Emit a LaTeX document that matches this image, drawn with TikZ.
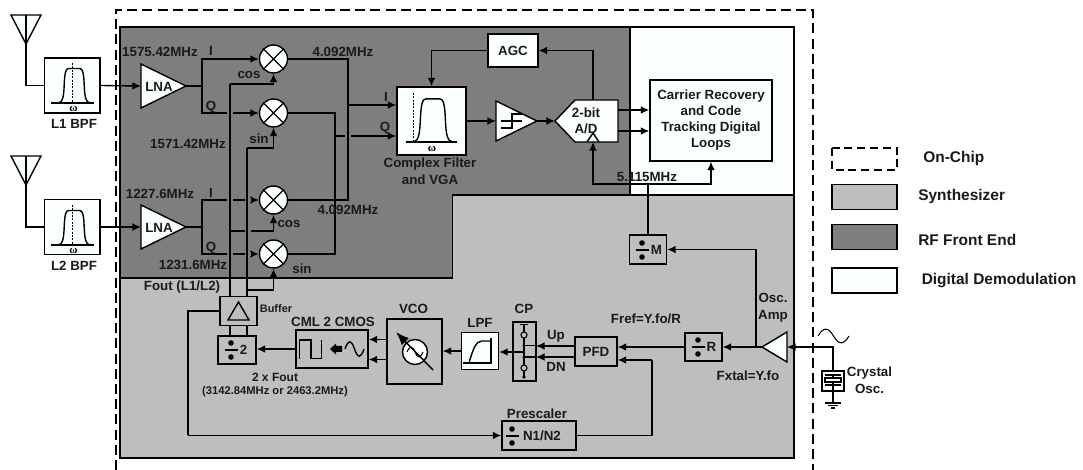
\documentclass[tikz,border=0pt]{standalone}
\usepackage{fontspec}
\setmainfont{Liberation Sans}
\newfontfamily\omegafont{Liberation Serif}
\usetikzlibrary{arrows.meta,calc}
\definecolor{rfc}{HTML}{7F7D7E}
\definecolor{sync}{HTML}{BFBDBE}
\definecolor{digc}{HTML}{FBFFFF}
\definecolor{inkc}{HTML}{1A1A1A}
\newcommand{\fz}[1]{\fontsize{#1}{#1}\selectfont\bfseries}
\tikzset{
  x=0.75pt,y=-0.75pt,
  wire/.style={draw=black,line width=1.05pt,line join=miter},
  arr/.style={wire,-{Latex[length=6.4pt,width=5.8pt]}},
  box/.style={draw=black,line width=1.05pt,rectangle,inner sep=0pt,minimum width=#1},
  wbox/.style={box=#1,fill=digc},
  hh/.style={minimum height=#1},
  shp/.style={draw=black,line width=1.05pt,fill=digc,line join=miter},
  mixer/.style={draw=black,line width=1.05pt,fill=digc,circle,inner sep=0pt,minimum size=21pt},
  txt/.style={inner sep=0pt,text=inkc,align=center,font=\fz{10}},
  txtb/.style={txt,font=\fz{10}},
  leg/.style={txt,font=\fz{11.6},anchor=west},
  patch/.style={draw=rfc,line width=2.8pt},
  dots/.style={draw=black,line width=0.7pt,dash pattern=on 1.5pt off 1pt},
  chipdash/.style={draw=black,line width=0.95pt,dash pattern=on 7.5pt off 3.9pt},
}
\newcommand{\divsym}[3]{% cx, cy, half-width
  \draw[line width=1.05pt] (#1-#3,#2) -- (#1+#3,#2);
  \fill (#1,#2-7) circle (2.1pt);
  \fill (#1,#2+7) circle (2.1pt);
}
\newcommand{\filtcurve}{%
  (-14,0) .. controls (-10,-1) and (-9,-6) .. (-8.5,-18) .. controls (-8,-30) and (-7,-34.5) .. (-4,-34.5)
  -- (7,-34.5) .. controls (10,-34.5) and (11,-30) .. (11.5,-18) .. controls (12,-6) and (13,-1) .. (17,0)}
\newcommand{\sinepath}[4]{% x0, y0, half period, amp
  (#1,#2) .. controls (#1+#3*0.35,#2-#4*1.3) and (#1+#3*0.65,#2-#4*1.3) .. (#1+#3,#2)
  .. controls (#1+#3*1.35,#2+#4*1.3) and (#1+#3*1.65,#2+#4*1.3) .. (#1+#3*2,#2)}
\begin{document}
\begin{tikzpicture}
\useasboundingbox (0,0) rectangle (1083,470);
% ---------- regions
\draw[fill=rfc,line width=1.05pt] (120,27) -- (630,27) -- (630,195) -- (452.5,195) -- (452.5,278) -- (120,278) -- cycle;
\draw[fill=digc,line width=1.05pt] (630,27) -- (794,27) -- (794,195) -- (630,195) -- cycle;
\draw[fill=sync,line width=1.05pt] (120,278) -- (452.5,278) -- (452.5,195) -- (794,195) -- (794,458) -- (120,458) -- cycle;
\draw[chipdash] (116,470) -- (116,10) -- (813,10) -- (813,470);

% ---------- boxes
\node[wbox=41.6pt,hh=41.2pt] (bpfA) at (72.3,85.5) {};
\node[wbox=41.6pt,hh=41.6pt] (bpfB) at (72.3,227) {};
\node[mixer] (mixA) at (273.5,59) {};
\node[mixer] (mixB) at (273.5,113) {};
\node[mixer] (mixC) at (273.5,200) {};
\node[mixer] (mixD) at (273.5,254) {};
\node[wbox=51.75pt,hh=51pt] (cfilt) at (431.5,121) {};
\node[wbox=37.5pt,hh=24.75pt] (agc) at (513,50.5) {};
\node[wbox=91.5pt,hh=60.75pt] (carrier) at (711,120.5) {};
\node[box=27.75pt,hh=21.75pt] (divM) at (648,249.5) {};
\node[box=27.75pt,hh=21pt] (divR) at (703.5,347) {};
\node[box=31.5pt,hh=21.75pt] (pfd) at (596,351.5) {};
\node[box=55.5pt,hh=21.75pt] (pres) at (539,435.5) {};
\node[box=17.25pt,hh=44.25pt] (cp) at (524.5,351.5) {};
\node[wbox=27.75pt,hh=27.75pt] (lpf) at (480,351) {};
\node[box=41.25pt,hh=48.75pt] (vco) at (414.5,351.5) {};
\node[box=54pt,hh=28.5pt] (cml) at (332,349) {};
\node[box=28.5pt,hh=21pt] (divtwo) at (237,350) {};
\node[box=27.75pt,hh=21.75pt] (buf) at (238.5,311) {};
\node[box=16.5pt,hh=15pt] (xtal) at (833,381) {};

% ---------- triangles and other drawn blocks
\draw[shp] (141,64) -- (186,86) coordinate (lnaAo) -- (141,108) -- cycle;
\draw[shp] (141,205) -- (186,227) coordinate (lnaBo) -- (141,249) -- cycle;
\coordinate (lnaAi) at (141,86);
\coordinate (lnaBi) at (141,227);
\draw[shp] (11,15) -- (41,15) -- (26,44) -- cycle;
\draw[shp] (11,156) -- (41,156) -- (26,185) -- cycle;
\coordinate (antA) at (26,15);
\coordinate (antB) at (26,156);
\draw[shp] (496,101) -- (537,121) coordinate (limo) -- (496,141) -- cycle;
\coordinate (limi) at (496,121);
\draw[shp] (555,121) coordinate (adcw) -- (575,100) -- (618,100) -- (618,142) -- (575,142) -- cycle;
\coordinate (adct) at (593,100);
\coordinate (adcb) at (593,142);
\coordinate (adcoa) at (618,110);
\coordinate (adcob) at (618,131);
\draw[shp] (762,347) coordinate (osco) -- (787,332) -- (787,362) -- cycle;
\coordinate (osci) at (787,347);

% ---------- block interiors
\foreach \c in {A,B,C,D} {
  \draw[line width=1.05pt] (mix\c.45) -- (mix\c.225) (mix\c.135) -- (mix\c.315);
}
% BPF symbols
\foreach \yb/\yt in {103/63,245/205} {
  \begin{scope}[shift={(72.7,\yb)}]
    \draw[line width=1.05pt] (-21.5,0) -- (21.5,0);
    \draw[line width=1.05pt] \filtcurve;
    \draw[dots] (0,-40) -- (0,0);
  \end{scope}
}
% complex filter symbol
\begin{scope}[shift={(431,142)},xscale=1.25,yscale=1.25]
  \draw[line width=1.05pt] \filtcurve;
\end{scope}
\draw[line width=1.05pt] (406,142) -- (457,142);
\draw[dots] (413,93) -- (413,142);
% limiter
\draw[line width=0.8pt] (501,121) -- (522,121) (501,128) -- (512,128) -- (512,114) -- (522,114);
% clock
\draw[line width=1.05pt] (587,142) -- (593,133) -- (599,142);
% divide symbols
\divsym{231}{350}{6.5}
\divsym{642}{250}{6.5}
\divsym{698}{347}{6.5}
\divsym{512}{436}{6.5}
% buffer triangle
\draw[line width=1.05pt] (228,320) -- (249,320) -- (238.5,302) -- cycle;
% CML symbols
\draw[line width=1.05pt] (299.5,358.7) -- (299.5,340) -- (311,340) -- (311,358.7) -- (321.5,358.7) -- (321.5,340);
\fill (330,349) -- (336,343.5) -- (336,346) -- (342,346) -- (342,352) -- (336,352) -- (336,354.5) -- cycle;
\draw[line width=1.05pt] \sinepath{345}{349}{9.5}{7.5};
% VCO
\node[mixer,minimum size=18.75pt] (vcoc) at (415,352) {};
\draw[line width=0.8pt] \sinepath{407}{352}{8}{5};
\draw[line width=1.05pt,-{Latex[length=10pt,width=7.5pt]}] (433,370) -- (396,332);
% LPF
\draw[line width=1.05pt] (463,363) -- (492,363) (491,338) -- (491,363);
\draw[line width=1.05pt] (469,363) .. controls (473,349) and (476,341) .. (482,341) -- (491,341);
% CP
\coordinate (cpmid) at (524,352);
\draw[line width=0.8pt] (520,324.5) -- (528,324.5) (524,324.5) -- (524,377);
\foreach \yy in {335,368} \draw[line width=0.8pt,fill=sync] (524,\yy) circle (2.3pt);
\fill (524,377) circle (1.4pt) (524,345.5) circle (1.2pt) (524,357) circle (1.2pt);
\draw[line width=0.8pt] (524,345.5) -- (536,345.5) (524,357) -- (536,357);
% crystal
\draw[wire] (833,375) -- (833,378) (833,382) -- (833,403);
\draw[line width=1.05pt] (825,375) -- (841,375) (825,385) -- (841,385);
\draw[line width=1.05pt,fill=digc] (825,378) rectangle (841,382);
\draw[line width=1.05pt] (825,403) -- (841,403);
\draw[line width=0.8pt] (828,405.5) -- (838,405.5) (831,408) -- (835,408);
\draw[line width=0.8pt] \sinepath{818}{336}{15.5}{7};

% ---------- connectors
\draw[wire] (antA) |- (bpfA.west);
\draw[wire] (antB) |- (bpfB.west);
\draw[arr] (bpfA.east) -- (lnaAi);
\draw[arr] (bpfB.east) -- (lnaBi);
\coordinate (splA) at (202,86);
\coordinate (splB) at (202,227);
\draw[wire] (lnaAo) -- (splA);
\draw[wire] (lnaBo) -- (splB);
\draw[arr] (splA) |- (mixA.west);
\draw[arr] (splA) |- (mixB.west);
\draw[arr] (splB) |- (mixC.west);
\draw[arr] (splB) |- (mixD.west);
% L.O. branches
\coordinate (bufc) at (230,296);
\coordinate (bufs) at (247,296);
\coordinate (cosA) at (230,84);
\coordinate (cosB) at (230,231);
\coordinate (sinA) at (247,148);
\coordinate (sinB) at (247,290);
\draw[arr] (cosB) -| (mixC.south);
% hops in the mixer inputs
\draw[patch] (227,113) -- (233,113) (227,200) -- (233,200) (227,254) -- (233,254);
\draw[patch] (245,200) -- (251,200) (245,231) -- (251,231) (245,254) -- (251,254);
\draw[wire] (bufc) -- (cosA);
\draw[arr] (cosA) -| (mixA.south);
\draw[wire] (bufs) -- (sinA);
\draw[arr] (sinA) -| (mixB.south);
\draw[arr] (sinB) -| (mixD.south);
\draw[wire] (buf.south -| bufc) -- (divtwo.north -| bufc);
\draw[wire] (buf.south -| bufs) -- (divtwo.north -| bufs);
% IF paths
\coordinate (ifA) at (348,105);
\coordinate (ifB) at (335,136);
\draw[wire] (mixB.east) -| (ifB) |- (mixD.east);
\draw[arr] (ifB) -- (ifB -| cfilt.west);
\draw[patch] (345,136) -- (351,136);
\draw[wire] (mixA.east) -| (ifA) |- (mixC.east);
\draw[arr] (ifA) -- (ifA -| cfilt.west);
% signal chain
\coordinate (cfo) at (466.5,121);
\draw[arr] (cfo) -- (limi);
\draw[arr] (limo) -- (adcw);
\draw[arr] (adct) |- (agc.east);
\draw[arr] (agc.west) -| (cfilt.north);
\draw[arr] (adcoa) -- (adcoa -| carrier.west);
\draw[arr] (adcob) -- (adcob -| carrier.west);
\coordinate (busj) at (648,184);
\draw[arr] (busj) -| (adcb);
\draw[arr] (busj) -| (carrier.south);
\draw[wire] (divM.north) -- (busj);
% synthesizer
\coordinate (oscj) at (756,347);
\draw[arr] (xtal.north) |- (osci);
\draw[arr] (osco) -- (divR.east);
\draw[arr] (oscj) |- (divM.east);
\draw[arr] (divR.west) -- (divR.west -| pfd.east);
\coordinate (pfdj) at (652,360);
\draw[wire] (pres.east) -| (pfdj);
\draw[arr] (pfdj) -- (pfdj -| pfd.east);
\coordinate (upj) at (536,346);
\coordinate (dnj) at (536,357);
\draw[arr] (upj -| pfd.west) -- (upj);
\draw[arr] (dnj -| pfd.west) -- (dnj);
\draw[arr] (cpmid) -- (cpmid -| lpf.east);
\draw[arr] (lpf.west) -- (lpf.west -| vco.east);
\coordinate (vcoa) at (387,339.5);
\coordinate (vcob) at (387,359.5);
\draw[arr] (vcoa) -- (vcoa -| cml.east);
\draw[arr] (vcob) -- (vcob -| cml.east);
\draw[arr] (cml.west) -- (cml.west -| divtwo.east);
\coordinate (fb) at (188,435.5);
\draw[wire] (buf.west) -| (fb);
\draw[arr] (fb) -- (pres.west);

% ---------- labels
\node[txt] (tlna1) at (159,86.5) {LNA};
\node[txt] (tlna2) at (159,227.5) {LNA};
\node[txtb] (tf1) at (160,52) {1575.42MHz};
\node[txtb] (ti1) at (211,51) {I};
\node[txtb] (tm1) at (343,52) {4.092MHz};
\node[txtb] (tcos1) at (249,75) {cos};
\node[txtb] (tq1) at (211,107) {Q};
\node[txtb] (tsin1) at (259,139) {sin};
\node[txtb] (tf2) at (188,143.5) {1571.42MHz};
\node[txtb] (tii) at (386,97) {I};
\node[txtb] (tqi) at (385,128) {Q};
\node[txt] (tl1) at (74,123.5) {L1 BPF};
\node[txt] (tl2) at (74,265.5) {L2 BPF};
\node[txtb] (tf3) at (160,193.5) {1227.6MHz};
\node[txtb] (ti2) at (211,193) {I};
\node[txtb] (tm2) at (348,209.5) {4.092MHz};
\node[txtb] (tcos2) at (289,223.5) {cos};
\node[txtb] (tq2) at (211,248) {Q};
\node[txtb] (tf4) at (193,264.5) {1231.6MHz};
\node[txtb] (tsin2) at (302,268.5) {sin};
\node[txtb] (tfout) at (182,287.5) {Fout (L1/L2)};
\node[txt] (tagc) at (513,50.5) {AGC};
\node[txtb] (tcf) at (430,171) {Complex Filter\\[2.8pt]and VGA};
\node[txt] (tcar) at (711,120) {Carrier Recovery\\[2.2pt]and Code\\[2.2pt]Tracking Digital\\[2.2pt]Loops};
\node[txtb] (tadc) at (586,121) {2-bit\\[2.4pt]A/D};
\node[txtb] (tclk) at (647,176.5) {5.115MHz};
\node[txt,font=\fz{8.2}] (tbuf) at (276,308.5) {Buffer};
\node[txtb] (tcml) at (333,322) {CML 2 CMOS};
\node[txtb] (tvco) at (413.5,308.5) {VCO};
\node[txtb] (tlpf) at (480,322.5) {LPF};
\node[txtb] (tcp) at (524,308.5) {CP};
\node[txtb] (tup) at (556,336.5) {Up};
\node[txtb] (tdn) at (556,366.5) {DN};
\node[txtb] (tpfd) at (596,351.5) {PFD};
\node[txtb] (tfref) at (646,318.5) {Fref=Y.fo/R};
\node[txtb] (tamp) at (773,308) {Osc.\\[2.8pt]Amp};
\node[txtb] (tfx) at (748,375.5) {Fxtal=Y.fo};
\node[txtb] (tcry) at (869.5,380.5) {Crystal\\[2.8pt]Osc.};
\node[txt,font=\fz{9}] (t2x) at (275,377.5) {2 x Fout};
\node[txt,font=\fz{8.4}] (tfs) at (275,391.5) {(3142.84MHz or 2463.2MHz)};
\node[txtb] (tpre) at (537,414) {Prescaler};
\node[txtb] (tn) at (542,436) {N1/N2};
\node[txtb] (tdtwo) at (243.5,349.5) {2};
\node[txtb] (tdm) at (656.5,249.5) {M};
\node[txtb] (tdr) at (711.5,346.5) {R};
\node[inner sep=0pt,font=\omegafont\fontsize{8.5}{8.5}\selectfont\bfseries] (tw1) at (73.5,109) {ω};
\node[inner sep=0pt,font=\omegafont\fontsize{8.5}{8.5}\selectfont\bfseries] (tw2) at (73.5,251) {ω};
\node[inner sep=0pt,font=\omegafont\fontsize{8.5}{8.5}\selectfont\bfseries] (tw3) at (432,149) {ω};

% ---------- legend
\draw[line width=0.95pt,dash pattern=on 6pt off 3.6pt] (832,148) rectangle (897,170);
\node[box=48.75pt,hh=18.75pt,fill=sync] (lsyn) at (864.5,197) {};
\node[box=48.75pt,hh=18.75pt,fill=rfc] (lrf) at (864.5,237) {};
\node[box=48.75pt,hh=18.75pt,fill=digc] (ldig) at (864.5,280.5) {};
\node[leg] (tl0) at (923,159) {On-Chip};
\node[leg] (tl3) at (918,197) {Synthesizer};
\node[leg] (tl4) at (918,239.5) {RF Front End};
\node[leg] (tl5) at (921.5,280.5) {Digital Demodulation};
\end{tikzpicture}
\end{document}
